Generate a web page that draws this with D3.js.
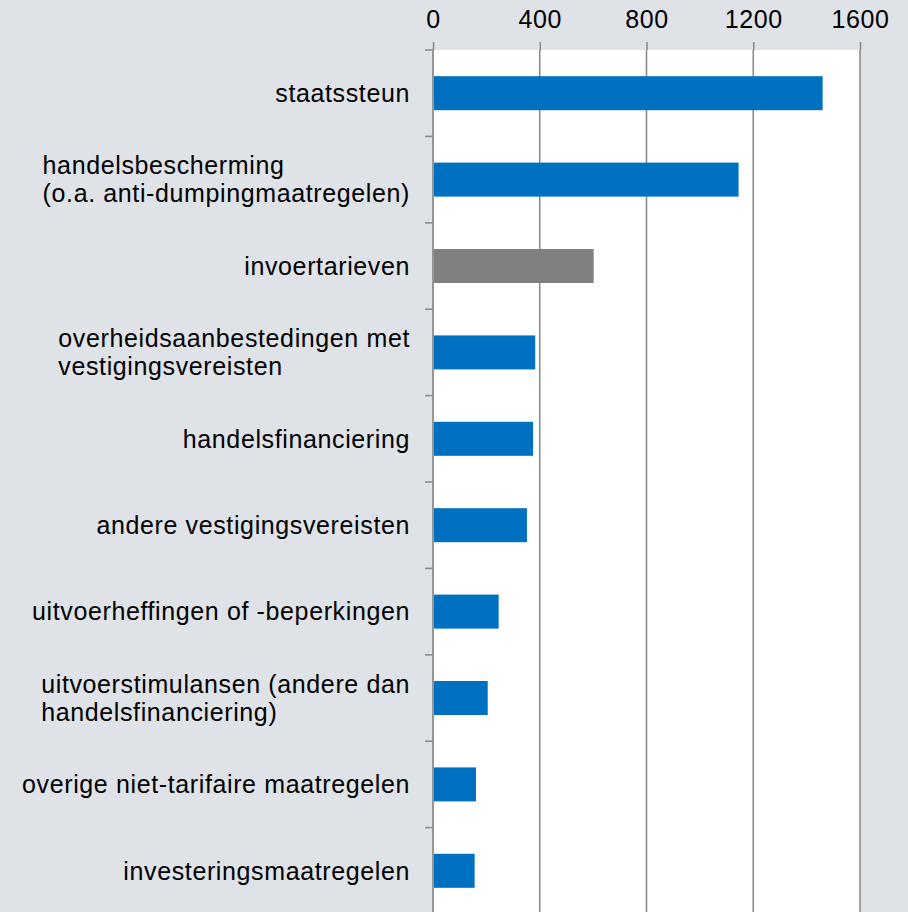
<!DOCTYPE html>
<html>
<head>
<meta charset="utf-8">
<script src="https://cdn.jsdelivr.net/npm/d3@7"></script>
<style>
  html, body { margin: 0; padding: 0; background: #dfe2e7; overflow: hidden; }
  svg { display: block; font-family: "Liberation Sans", Arial, sans-serif; }
</style>
</head>
<body>
<div class="canvas"></div>
<script>
// categories, top to bottom (multi-line labels split by |)
const categories = [
  'staatssteun',
  'handelsbescherming|(o.a. anti-dumpingmaatregelen)',
  'invoertarieven',
  'overheidsaanbestedingen met|vestigingsvereisten',
  'handelsfinanciering',
  'andere vestigingsvereisten',
  'uitvoerheffingen of -beperkingen',
  'uitvoerstimulansen (andere dan|handelsfinanciering)',
  'overige niet-tarifaire maatregelen',
  'investeringsmaatregelen'
]
const values = [1460, 1145, 602, 383, 375, 352, 246, 205, 161, 156]
const highlight = [false, false, true, false, false, false, false, false, false, false]
const xTicks = [0, 400, 800, 1200, 1600]

const width = 908
const height = 912
const pLeft = 433, pRight = 860, pTop = 50, pBottom = 914
const fontSize = '25px'
const spacing = '0.62px'

const svg = d3.select('.canvas').append('svg')
  .attr('width', width)
  .attr('height', height)

svg.append('rect')
  .attr('width', width).attr('height', height)
  .attr('fill', '#dfe2e7')

const x = d3.scaleLinear().domain([0, 1600]).range([pLeft, pRight])
const y = d3.scaleBand().domain(categories).range([pTop, pBottom])
  .paddingInner(0.6065).paddingOuter(0.30325)

// plot area
svg.append('rect')
  .attr('x', pLeft).attr('y', pTop)
  .attr('width', pRight - pLeft).attr('height', pBottom - pTop)
  .attr('fill', '#ffffff')

// vertical gridlines
svg.append('g').selectAll('line')
  .data(xTicks.slice(1))
  .join('line')
    .attr('x1', d => x(d)).attr('x2', d => x(d))
    .attr('y1', pTop).attr('y2', pBottom)
    .attr('stroke', '#8c8c8c')
    .attr('stroke-width', 1.6)

// top axis
const xAxis = svg.append('g')
  .attr('transform', `translate(0,${pTop})`)
  .call(d3.axisTop(x).tickValues(xTicks).tickSize(8).tickPadding(14).tickFormat(d3.format('d')))
xAxis.select('.domain').remove()
xAxis.selectAll('.tick line').attr('stroke', '#8c8c8c').attr('stroke-width', 1.6)
xAxis.selectAll('.tick text')
  .attr('fill', '#000')
  .style('font-size', fontSize)
  .style('letter-spacing', spacing)
  .style('font-family', '"Liberation Sans", Arial, sans-serif')

// bars
svg.append('g').selectAll('rect')
  .data(categories)
  .join('rect')
    .attr('x', x(0) + 1)
    .attr('y', d => y(d))
    .attr('width', (d, i) => x(values[i]) - x(0) - 1)
    .attr('height', y.bandwidth())
    .attr('fill', (d, i) => highlight[i] ? '#808080' : '#0070c0')

// left axis line + category boundary ticks
svg.append('line')
  .attr('x1', pLeft).attr('x2', pLeft)
  .attr('y1', pTop).attr('y2', pBottom)
  .attr('stroke', '#8c8c8c').attr('stroke-width', 1.8)

const step = y.step()
svg.append('g').selectAll('line')
  .data(d3.range(categories.length + 1))
  .join('line')
    .attr('x1', pLeft - 8).attr('x2', pLeft)
    .attr('y1', i => pTop + i * step).attr('y2', i => pTop + i * step)
    .attr('stroke', '#8c8c8c').attr('stroke-width', 1.6)

// category labels: block right aligned, lines left aligned
const lineH = 28
const labels = svg.append('g')
labels.selectAll('text')
  .data(categories)
  .join('text')
    .attr('fill', '#000')
    .style('font-size', fontSize)
    .style('letter-spacing', spacing)
    .each(function(d){
      const lines = d.split('|')
      const t = d3.select(this)
      const cy = y(d) + y.bandwidth() / 2
      const y0 = cy - (lines.length - 1) * lineH / 2
      lines.forEach((l, k) => {
        t.append('tspan').attr('y', y0 + k * lineH).attr('dy', '0.35em').text(l)
      })
      let w = 0
      t.selectAll('tspan').each(function(){ w = Math.max(w, this.getComputedTextLength()) })
      t.selectAll('tspan').attr('x', pLeft - 23 - w)
    })
</script>
</body>
</html>
